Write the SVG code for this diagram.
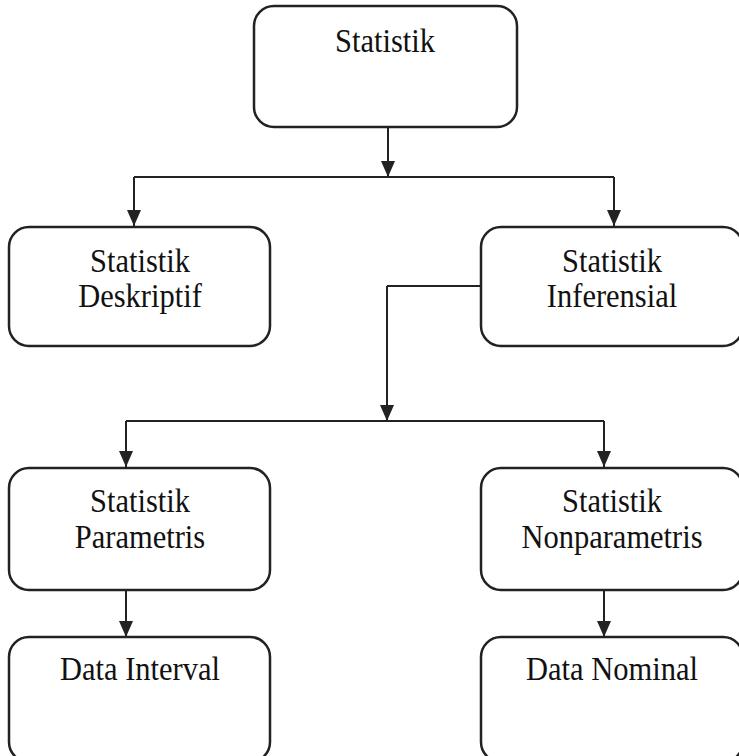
<svg xmlns="http://www.w3.org/2000/svg" width="739" height="756" viewBox="0 0 739 756">
  <style>
    .box { fill: #ffffff; stroke: #222222; stroke-width: 2.5; }
    .lbl { font-family: "Liberation Serif", "Times New Roman", serif; font-size: 30.5px; fill: #111111; text-anchor: middle; }
    .wire { fill: none; stroke: #222222; stroke-width: 2; }
    .arr { fill: none; stroke: #222222; stroke-width: 2; marker-end: url(#head); }
  </style>
  <defs>
    <marker id="head" viewBox="0 0 16 14" refX="16" refY="7" markerWidth="16" markerHeight="14" markerUnits="userSpaceOnUse" orient="auto">
      <path d="M0,0 L16,7 L0,14 Z" fill="#222222"/>
    </marker>
  </defs>
  <rect width="739" height="756" fill="#ffffff"/>

  <g id="connectors">
    <!-- root to first level -->
    <line class="arr" x1="388" y1="127" x2="388" y2="177"/>
    <polyline class="wire" points="134,177 614,177"/>
    <line class="arr" x1="134" y1="177" x2="134" y2="226"/>
    <line class="arr" x1="614" y1="177" x2="614" y2="226"/>
    <!-- inferensial to second level -->
    <polyline class="wire" points="481,286 387,286"/>
    <line class="arr" x1="387" y1="286" x2="387" y2="421"/>
    <polyline class="wire" points="126,421 604,421"/>
    <line class="arr" x1="126" y1="421" x2="126" y2="467"/>
    <line class="arr" x1="604" y1="421" x2="604" y2="467"/>
    <!-- second level to data types -->
    <line class="arr" x1="126" y1="590" x2="126" y2="637"/>
    <line class="arr" x1="604" y1="590" x2="604" y2="637"/>
  </g>

  <!-- labels are slightly stretched vertically to get the tall, narrow lettering -->
  <g id="statistik">
    <rect class="box" x="254" y="6" width="263" height="121" rx="20" ry="20"/>
    <text class="lbl" transform="translate(385,52) scale(1,1.1)">Statistik</text>
  </g>

  <g id="deskriptif">
    <rect class="box" x="9" y="227" width="261" height="119" rx="20" ry="20"/>
    <text class="lbl" transform="translate(140,272) scale(1,1.1)">Statistik</text>
    <text class="lbl" transform="translate(140,307) scale(1,1.1)">Deskriptif</text>
  </g>

  <g id="inferensial">
    <rect class="box" x="481" y="227" width="262" height="119" rx="20" ry="20"/>
    <text class="lbl" transform="translate(612,272) scale(1,1.1)">Statistik</text>
    <text class="lbl" transform="translate(612,307) scale(1,1.1)">Inferensial</text>
  </g>

  <g id="parametris">
    <rect class="box" x="9" y="468" width="261" height="122" rx="20" ry="20"/>
    <text class="lbl" transform="translate(140,512) scale(1,1.1)">Statistik</text>
    <text class="lbl" transform="translate(140,548) scale(1,1.1)">Parametris</text>
  </g>

  <g id="nonparametris">
    <rect class="box" x="481" y="468" width="262" height="122" rx="20" ry="20"/>
    <text class="lbl" transform="translate(612,512) scale(1,1.1)">Statistik</text>
    <text class="lbl" transform="translate(612,548) scale(1,1.1)">Nonparametris</text>
  </g>

  <g id="data-interval">
    <rect class="box" x="9" y="637" width="261" height="125" rx="20" ry="20"/>
    <text class="lbl" transform="translate(140,680) scale(1,1.1)">Data Interval</text>
  </g>

  <g id="data-nominal">
    <rect class="box" x="481" y="637" width="262" height="125" rx="20" ry="20"/>
    <text class="lbl" transform="translate(612,680) scale(1,1.1)">Data Nominal</text>
  </g>
</svg>
